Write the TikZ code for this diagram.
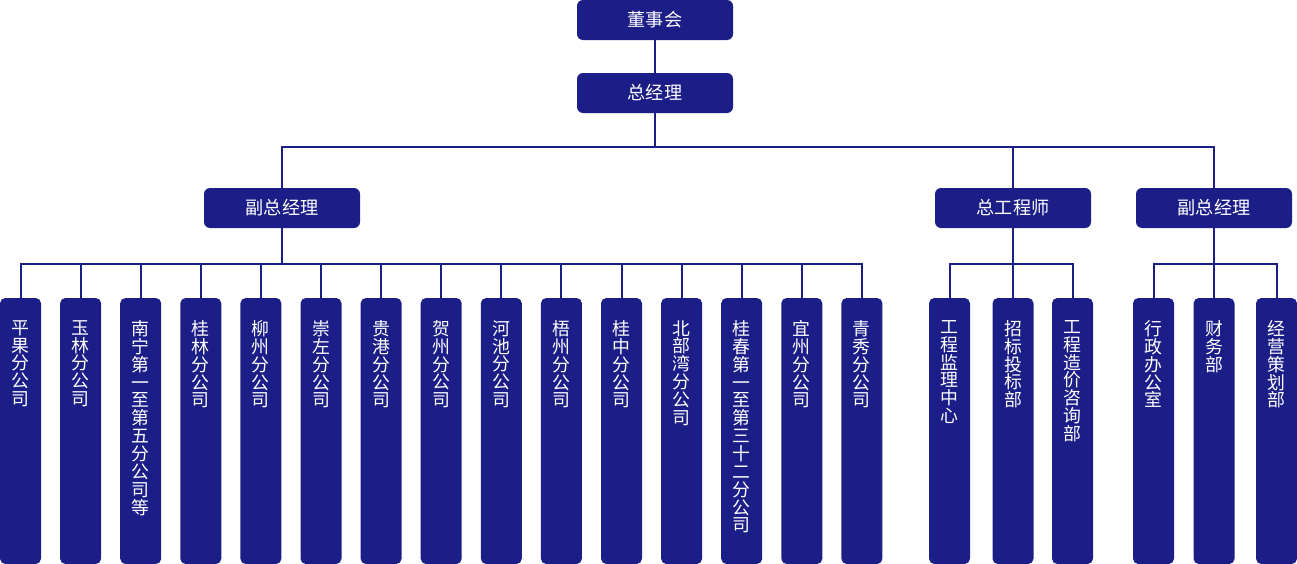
\documentclass[tikz,border=0pt]{standalone}
\usepackage{fontspec}
\setmainfont{Noto Sans CJK SC}
\usetikzlibrary{positioning}
\definecolor{navy}{RGB}{28,30,135}

% stack the characters of a name one under the other
\newcommand\vtext[1]{\edef\vtmp{#1}\expandafter\vtextaux\vtmp\relax}
\def\vtextaux#1{\ifx\relax#1\else#1\par\expandafter\vtextaux\fi}

\begin{document}
\begin{tikzpicture}[x=0.75pt, y=-0.75pt,
  box/.style={fill=navy, rounded corners=4.5pt, minimum width=117pt, minimum height=30pt,
    inner sep=0pt, text=white, font=\fontsize{13.6pt}{15pt}\selectfont},
  leaf/.style={fill=navy, rounded corners=4pt, minimum width=30.75pt, minimum height=199.5pt, inner sep=0pt},
  leaftext/.style={anchor=north, text=white, text width=20pt, align=center, inner sep=0pt,
    font=\fontsize{13.4pt}{13.4pt}\selectfont},
  link/.style={draw=navy, line width=1.5pt}]
  \useasboundingbox (0,0) rectangle (1297,564);
  \coordinate (bus1) at (0,147);
  \coordinate (bus2) at (0,264);

  \node[box] (dsh) at (655,20) {董事会};
  \node[box] (zjl) at (655,93) {总经理};
  \node[box] (fz1) at (282,208) {副总经理};
  \node[box] (zgc) at (1013,208) {总工程师};
  \node[box] (fz2) at (1214,208) {副总经理};

  % branches
  \foreach \name [count=\i] in {平果分公司, 玉林分公司, 南宁第一至第五分公司等, 桂林分公司,
      柳州分公司, 崇左分公司, 贵港分公司, 贺州分公司, 河池分公司, 梧州分公司, 桂中分公司,
      北部湾分公司, 桂春第一至第三十二分公司, 宜州分公司, 青秀分公司} {
    \node[leaf] (b\i) at ({20.5+60.1*(\i-1)},431) {};
    \node[leaftext] (tb\i) at ([yshift=-16.8pt]b\i.north) {\vtext{\name}};
  }
  % departments
  \foreach \name/\x [count=\i] in {工程监理中心/949.5, 招标投标部/1013, 工程造价咨询部/1072.5} {
    \node[leaf] (e\i) at (\x,431) {};
    \node[leaftext] (te\i) at ([yshift=-16.8pt]e\i.north) {\vtext{\name}};
  }
  \foreach \name/\x [count=\i] in {行政办公室/1153.5, 财务部/1214, 经营策划部/1276.5} {
    \node[leaf] (a\i) at (\x,431) {};
    \node[leaftext] (ta\i) at ([yshift=-16.8pt]a\i.north) {\vtext{\name}};
  }

  \draw[link] (dsh) -- (zjl);
  \draw[link] (zjl) -- (zjl |- bus1);
  \draw[link] (fz1) -- (fz1 |- bus1) -- (fz2 |- bus1) -- (fz2);
  \draw[link] (zgc) -- (zgc |- bus1);

  \draw[link] (fz1) -- (fz1 |- bus2);
  \draw[link] (b1) -- (b1 |- bus2) -- (b15 |- bus2) -- (b15);
  \foreach \i in {2,...,14}
    \draw[link] (b\i) -- (b\i |- bus2);

  \draw[link] (zgc) -- (e2);
  \draw[link] (e1) -- (e1 |- bus2) -- (e3 |- bus2) -- (e3);
  \draw[link] (fz2) -- (a2);
  \draw[link] (a1) -- (a1 |- bus2) -- (a3 |- bus2) -- (a3);
\end{tikzpicture}
\end{document}
